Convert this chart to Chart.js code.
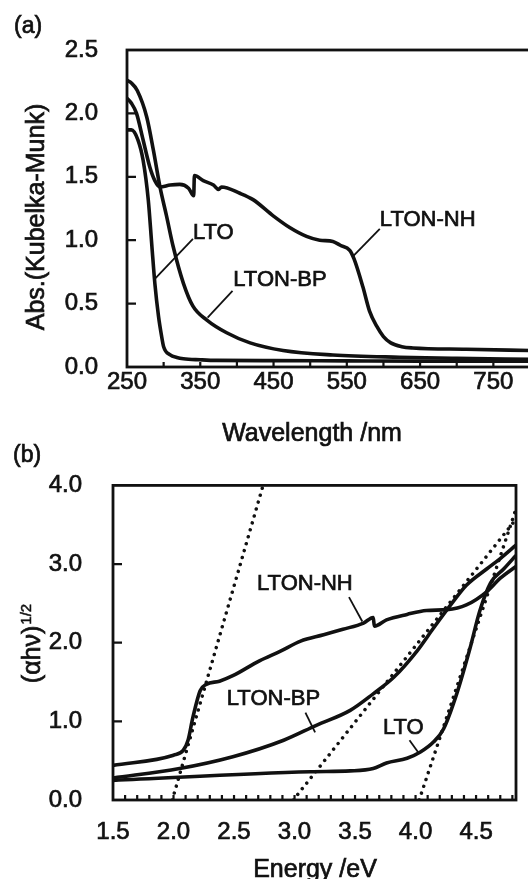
<!DOCTYPE html>
<html>
<head>
<meta charset="utf-8">
<script src="https://cdn.jsdelivr.net/npm/chart.js@4.4.1/dist/chart.umd.min.js"></script>
<style>
html, body { margin: 0; padding: 0; background: #fff; overflow: hidden; }
#wrap { position: relative; width: 528px; height: 879px; overflow: hidden; }
#chartA { position: absolute; left: 0; top: 0; }
#chartB { position: absolute; left: 0; top: 440px; }
</style>
</head>
<body>
<div id="wrap">
  <canvas id="chartA" width="540" height="460"></canvas>
  <canvas id="chartB" width="528" height="439"></canvas>
</div>
<script>
// (a) Kubelka-Munk absorbance vs wavelength
const waveLTO = [250, 256, 265, 272, 279, 284, 288, 293, 297, 300, 309, 318, 327, 350, 372, 450, 550, 650, 800];
const absLTO  = [1.87, 1.87, 1.79, 1.63, 1.32, 0.95, 0.66, 0.40, 0.25, 0.16, 0.095, 0.075, 0.065, 0.057, 0.052, 0.05, 0.048, 0.046, 0.045];

const waveNH = [250, 256, 263, 272, 281, 288, 295, 309, 322, 334, 341, 342, 354, 368, 375, 379, 404, 422, 450, 472, 495, 513, 531, 541, 554, 560, 572, 581, 591, 600, 610, 625, 640, 713, 800];
const absNH  = [2.12, 2.08, 2.0, 1.79, 1.58, 1.47, 1.42, 1.435, 1.44, 1.41, 1.35, 1.51, 1.47, 1.435, 1.40, 1.42, 1.37, 1.32, 1.19, 1.10, 1.03, 1.0, 0.99, 0.96, 0.92, 0.85, 0.63, 0.44, 0.32, 0.24, 0.19, 0.16, 0.15, 0.14, 0.13];

const waveBP = [250, 256, 264, 277, 286, 295, 304, 313, 327, 340, 359, 386, 418, 463, 531, 622, 700, 800];
const absBP  = [2.26, 2.24, 2.18, 1.97, 1.71, 1.42, 1.19, 0.95, 0.66, 0.48, 0.37, 0.27, 0.19, 0.13, 0.095, 0.077, 0.068, 0.06];

const waveTicks = [250, 350, 450, 550, 650, 750];
const waveMinor = [300, 350, 400, 450, 500, 550, 600, 650, 700, 750];
const absTicks = [0, 0.5, 1.0, 1.5, 2.0, 2.5];

// (b) Tauc plot (ahv)^1/2 vs energy
const eNH = [1.5, 2.0, 2.08, 2.12, 2.16, 2.22, 2.27, 2.38, 2.49, 2.71, 2.88, 3.05, 3.24, 3.40, 3.57, 3.65, 3.66, 3.76, 3.93, 4.09, 4.26, 4.42, 4.59, 4.70, 4.83];
const vNH = [0.44, 0.57, 0.63, 0.76, 1.05, 1.39, 1.47, 1.51, 1.58, 1.77, 1.89, 2.02, 2.10, 2.17, 2.25, 2.32, 2.21, 2.29, 2.36, 2.41, 2.42, 2.48, 2.65, 2.82, 2.97];

const eBP = [1.5, 2.05, 2.49, 2.91, 3.18, 3.46, 3.65, 3.82, 4.01, 4.15, 4.29, 4.42, 4.59, 4.70, 4.83];
const vBP = [0.28, 0.40, 0.55, 0.76, 0.95, 1.14, 1.35, 1.56, 1.89, 2.19, 2.48, 2.73, 2.94, 3.07, 3.24];

const eLTO = [1.5, 3.13, 3.46, 3.65, 3.76, 3.93, 4.04, 4.15, 4.23, 4.34, 4.45, 4.53, 4.62, 4.73, 4.83];
const vLTO = [0.25, 0.36, 0.37, 0.40, 0.47, 0.53, 0.61, 0.74, 0.90, 1.35, 1.93, 2.40, 2.76, 2.94, 3.11];

// tangent (band gap) lines
const tan1E = [1.99, 2.74], tan1V = [0, 4.0];
const tan2E = [2.99, 4.83], tan2V = [0, 3.57];
const tan3E = [4.03, 4.83], tan3V = [0, 3.7];

const energyTicks = [1.5, 2.0, 2.5, 3.0, 3.5, 4.0, 4.5];
const ahvTicks = [0, 1, 2, 3, 4];
const energyMinor = [];
for (let e = 16; e <= 48; e++) energyMinor.push(e / 10);

const ink = '#111';
const family = '"Liberation Sans", Arial, sans-serif';

function pts(xs, ys) {
    return xs.map((v, i) => ({ x: v, y: ys[i] }));
}

function curve(xs, ys) {
    return {
        data: pts(xs, ys),
        borderColor: ink,
        borderWidth: 3.6,
        pointRadius: 0,
        cubicInterpolationMode: 'monotone',
        borderJoinStyle: 'round'
    };
}

function dotted(xs, ys) {
    return {
        data: pts(xs, ys),
        borderColor: ink,
        borderWidth: 3.5,
        borderDash: [0.01, 7.2],
        borderCapStyle: 'round',
        pointRadius: 0,
        tension: 0
    };
}

// text drawn a touch heavier, like the scanned figure
function heavyText(ctx, s, x, y) {
    ctx.fillText(s, x, y);
    ctx.strokeText(s, x, y);
}

// frame, inward ticks, curve labels and axis titles
const decor = {
    id: 'decor',
    afterDatasetsDraw(chart, args, o) {
        const ctx = chart.ctx, a = chart.chartArea;
        const x = chart.scales.x, y = chart.scales.y;
        ctx.save();
        ctx.strokeStyle = ink;
        ctx.fillStyle = ink;
        ctx.lineWidth = 2.8;
        ctx.strokeRect(a.left, a.top, a.right - a.left, a.bottom - a.top);

        ctx.lineWidth = 2.2;
        ctx.beginPath();
        o.xMinor.forEach(v => {
            const p = x.getPixelForValue(v);
            ctx.moveTo(p, a.bottom);
            ctx.lineTo(p, a.bottom - 5);
        });
        o.yMajor.forEach(v => {
            const p = y.getPixelForValue(v);
            ctx.moveTo(a.left, p);
            ctx.lineTo(a.left + 9, p);
        });
        ctx.stroke();

        ctx.font = '22px ' + family;
        ctx.textBaseline = 'middle';
        ctx.textAlign = 'left';
        o.notes.forEach(n => {
            ctx.lineWidth = 0.7;
            heavyText(ctx, n.text, x.getPixelForValue(n.x), y.getPixelForValue(n.y));
            ctx.lineWidth = 1.8;
            ctx.beginPath();
            ctx.moveTo(x.getPixelForValue(n.from[0]), y.getPixelForValue(n.from[1]));
            ctx.lineTo(x.getPixelForValue(n.to[0]), y.getPixelForValue(n.to[1]));
            ctx.stroke();
        });

        ctx.lineWidth = 0.7;
        // panel letter
        ctx.font = '23px ' + family;
        heavyText(ctx, o.panel, o.panelPos[0], o.panelPos[1]);

        // x title
        ctx.font = '25px ' + family;
        ctx.textAlign = 'center';
        heavyText(ctx, o.xTitle, o.xTitlePos[0], o.xTitlePos[1]);

        // y title, rotated, with optional superscript
        ctx.translate(o.yTitlePos[0], o.yTitlePos[1]);
        ctx.rotate(-Math.PI / 2);
        const mainW = ctx.measureText(o.yTitle).width;
        let supW = 0;
        if (o.ySup) {
            ctx.font = '15px ' + family;
            supW = ctx.measureText(o.ySup).width;
        }
        const start = -(mainW + supW) / 2;
        ctx.textAlign = 'left';
        ctx.font = '25px ' + family;
        heavyText(ctx, o.yTitle, start, 0);
        if (o.ySup) {
            ctx.font = '15px ' + family;
            ctx.lineWidth = 0.5;
            heavyText(ctx, o.ySup, start + mainW + 1, -6);
        }
        ctx.restore();
    }
};

function tickOpts(extra) {
    return Object.assign({
        color: ink,
        font: { size: 24, family: family },
        textStrokeColor: ink,
        textStrokeWidth: 0.7,
        maxRotation: 0,
        autoSkip: false
    }, extra);
}

new Chart(document.getElementById('chartA'), {
    type: 'line',
    data: {
        datasets: [curve(waveLTO, absLTO), curve(waveNH, absNH), curve(waveBP, absBP)]
    },
    options: {
        responsive: false,
        animation: false,
        events: [],
        layout: { padding: { top: 50, right: 10, left: 0, bottom: 20 } },
        plugins: {
            legend: { display: false },
            tooltip: { enabled: false },
            decor: {
                xMinor: waveMinor,
                yMajor: [0.5, 1.0, 1.5, 2.0],
                notes: [
                    { text: 'LTON-NH', x: 595, y: 1.16, from: [595, 1.09], to: [558, 0.87] },
                    { text: 'LTO', x: 340, y: 1.06, from: [340, 1.01], to: [289, 0.70] },
                    { text: 'LTON-BP', x: 395, y: 0.69, from: [394, 0.60], to: [360, 0.39] }
                ],
                panel: '(a)', panelPos: [14, 27],
                xTitle: 'Wavelength /nm', xTitlePos: [312, 434],
                yTitle: 'Abs.(Kubelka-Munk)', yTitlePos: [37, 217]
            }
        },
        scales: {
            x: {
                type: 'linear', min: 250, max: 800,
                afterBuildTicks: s => { s.ticks = waveTicks.map(v => ({ value: v })); },
                afterFit: s => { s.height = 73; },
                grid: { display: false, drawTicks: false },
                border: { display: false },
                ticks: tickOpts({ padding: 1 })
            },
            y: {
                min: 0, max: 2.5,
                afterBuildTicks: s => { s.ticks = absTicks.map(v => ({ value: v })); },
                afterFit: s => { s.width = 127; },
                grid: { display: false, drawTicks: false },
                border: { display: false },
                ticks: tickOpts({ padding: 29, callback: v => v.toFixed(1) })
            }
        }
    },
    plugins: [decor]
});

new Chart(document.getElementById('chartB'), {
    type: 'line',
    data: {
        datasets: [
            curve(eNH, vNH), curve(eBP, vBP), curve(eLTO, vLTO),
            dotted(tan1E, tan1V), dotted(tan2E, tan2V), dotted(tan3E, tan3V)
        ]
    },
    options: {
        responsive: false,
        animation: false,
        events: [],
        layout: { padding: { top: 43, right: 12, left: 0, bottom: 0 } },
        plugins: {
            legend: { display: false },
            tooltip: { enabled: false },
            decor: {
                xMinor: energyMinor,
                yMajor: [1, 2, 3],
                notes: [
                    { text: 'LTON-NH', x: 2.69, y: 2.75, from: [3.45, 2.58], to: [3.56, 2.27] },
                    { text: 'LTON-BP', x: 2.44, y: 1.28, from: [3.09, 1.11], to: [3.17, 0.86] },
                    { text: 'LTO', x: 3.73, y: 0.92, from: [3.95, 0.76], to: [4.02, 0.61] }
                ],
                panel: '(b)', panelPos: [13, 16],
                xTitle: 'Energy /eV', xTitlePos: [315, 430],
                yTitle: '(\u03b1h\u03bd)', ySup: '1/2', yTitlePos: [33, 204]
            }
        },
        scales: {
            x: {
                type: 'linear', min: 1.5, max: 4.83,
                afterBuildTicks: s => { s.ticks = energyTicks.map(v => ({ value: v })); },
                afterFit: s => { s.height = 79; },
                grid: { display: false, drawTicks: false },
                border: { display: false },
                ticks: tickOpts({ padding: 18, callback: v => v.toFixed(1) })
            },
            y: {
                min: 0, max: 4,
                afterBuildTicks: s => { s.ticks = ahvTicks.map(v => ({ value: v })); },
                afterFit: s => { s.width = 113; },
                grid: { display: false, drawTicks: false },
                border: { display: false },
                ticks: tickOpts({ padding: 31, callback: v => v.toFixed(1) })
            }
        }
    },
    plugins: [decor]
});
</script>
</body>
</html>
